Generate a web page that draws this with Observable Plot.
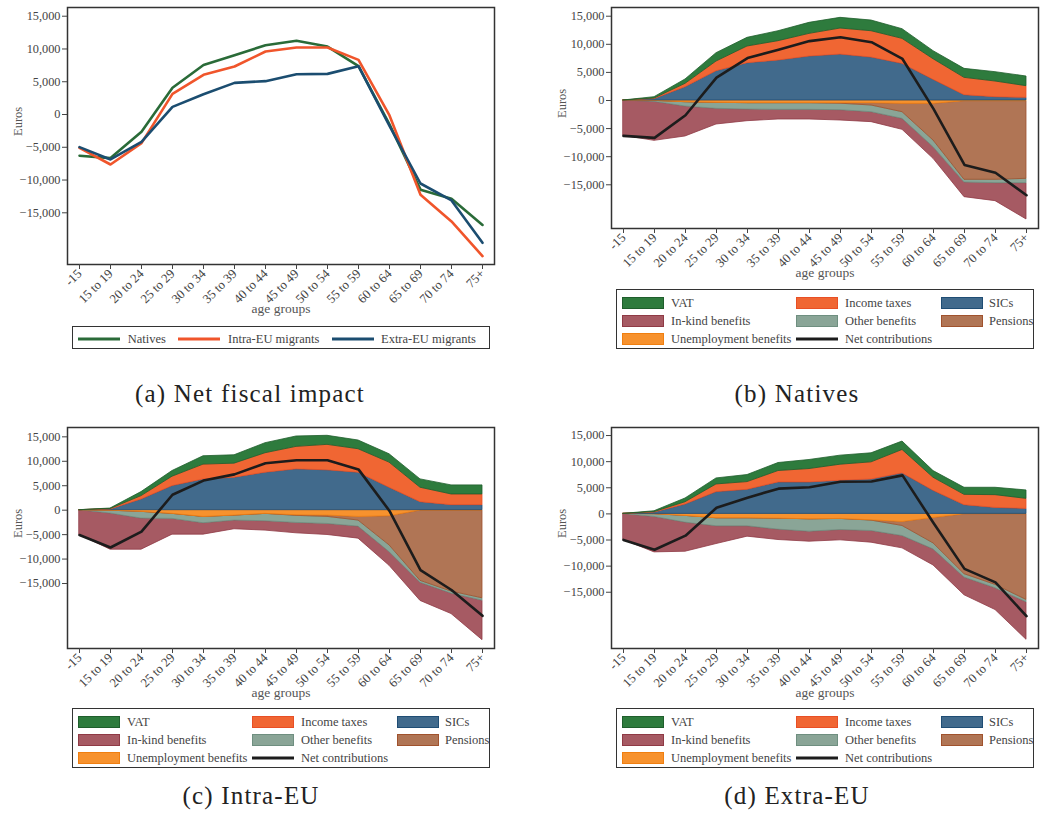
<!DOCTYPE html>
<html><head><meta charset="utf-8">
<script src="https://cdn.jsdelivr.net/npm/d3@7"></script>
<script src="https://cdn.jsdelivr.net/npm/@observablehq/plot@0.6"></script>
<style>
body{margin:0;background:#fff;width:1041px;height:829px;position:relative;overflow:hidden;font-family:"Liberation Serif","Times New Roman",serif;}
svg{position:absolute;overflow:visible;}
.legend{position:absolute;border:1.3px solid #333;box-sizing:border-box;background:#fff;}
.item{position:absolute;font-family:"Liberation Serif",serif;font-size:12.5px;color:#444;white-space:nowrap;transform:translateY(-50%);line-height:14px;}
.sw{position:absolute;box-sizing:border-box;transform:translateY(-50%);}
.caption{position:absolute;font-family:"Liberation Serif",serif;font-size:25px;letter-spacing:1.2px;color:#222;transform:translate(-50%,-50%);white-space:nowrap;}
</style></head>
<body>
<script>
// ---------- data ----------
const ages = ["-15","15 to 19","20 to 24","25 to 29","30 to 34","35 to 39","40 to 44","45 to 49","50 to 54","55 to 59","60 to 64","65 to 69","70 to 74","75+"];
const yTicks = [-15000,-10000,-5000,0,5000,10000,15000];

// net contributions (panel a, and black line in b, c, d)
const netNatives  = [-6300,-6650,-2620,4080,7550,9050,10570,11250,10370,7390,-1500,-11470,-12860,-16860];
const netIntraEU  = [-5090,-7630,-4370,3150,6050,7320,9610,10220,10220,8340,-150,-12250,-16320,-21610];
const netExtraEU  = [-4980,-6860,-4170,1170,3100,4830,5090,6150,6200,7370,-1750,-10530,-13120,-19580];

// Natives components
const nativesSICs   = [0,250,2370,5220,6640,7120,7830,8180,7650,6520,3680,950,590,470];
const nativesIncome = [0,100,600,1720,2970,3440,4030,4630,4680,4450,3670,3080,2790,2080];
const nativesVAT    = [0,240,770,1480,1540,1770,1960,1900,1900,1720,1430,1600,1660,1720];
const nativesUnemp  = [0,-60,-300,-410,-470,-470,-470,-470,-470,-590,-590,-120,-120,-120];
const nativesPens   = [0,0,0,0,0,0,0,-100,-420,-1490,-6530,-13990,-13990,-13820];
const nativesOther  = [0,-180,-770,-1070,-1130,-1190,-1190,-1150,-1190,-1180,-1180,-480,-600,-770];
const nativesInkind = [-6290,-6940,-5330,-2790,-2080,-1720,-1720,-1840,-1770,-1960,-2080,-2610,-3200,-6460];

// Intra-EU components
const intraSICs   = [0,140,2190,4930,6300,6640,7670,8360,8150,7670,4590,1640,1030,1030];
const intraIncome = [0,100,690,1920,3020,2880,3980,4590,5210,4800,5140,2950,2190,2190];
const intraVAT    = [0,100,820,1160,1710,1710,2050,2120,1850,1780,1710,1710,1850,1850];
const intraUnemp  = [0,-100,-340,-750,-1370,-1100,-750,-1030,-1100,-1370,-1230,-70,-70,-70];
const intraPens   = [0,0,0,0,0,0,0,-130,-270,-750,-5960,-14380,-16580,-17950];
const intraOther  = [0,-590,-1370,-1030,-1300,-1020,-1510,-1440,-1440,-1240,-1370,-410,-410,-480];
const intraInkind = [-5070,-7390,-6370,-3220,-2330,-1780,-1920,-2130,-2260,-2460,-2810,-3700,-4180,-8080];

// Extra-EU components
const extraSICs   = [0,260,1790,4170,4620,6030,6030,6350,6600,7760,4420,1670,1150,960];
const extraIncome = [0,90,450,1470,1470,2180,2560,3070,3270,4480,2500,1980,2440,1920];
const extraVAT    = [0,160,710,1150,1350,1530,1730,1730,1730,1610,1280,1350,1410,1610];
const extraUnemp  = [0,-50,-380,-830,-830,-900,-1030,-960,-1220,-1540,-770,-60,-60,-60];
const extraPens   = [0,0,0,0,0,0,0,0,-60,-770,-4870,-11480,-13530,-16410];
const extraOther  = [0,-530,-1290,-1540,-1540,-2110,-2370,-2120,-1990,-1920,-1150,-640,-640,-450];
const extraInkind = [-5000,-6790,-5570,-3400,-1990,-1990,-1920,-1980,-2240,-2370,-3080,-3400,-4170,-7180];

// ---------- styles ----------
const style = {
  "VAT": {fill:"#2e7b3d", stroke:"#1f5e2c"},
  "Income taxes": {fill:"#f06633", stroke:"#e84f25"},
  "SICs": {fill:"#416a8c", stroke:"#1f4d74"},
  "In-kind benefits": {fill:"#a65a63", stroke:"#8f3a45"},
  "Other benefits": {fill:"#8aa597", stroke:"#6f8f80"},
  "Pensions": {fill:"#b07555", stroke:"#a0522d"},
  "Unemployment benefits": {fill:"#f7922e", stroke:"#f07f10"}
};
const lineColors = {"Natives":"#2a6b38","Intra-EU migrants":"#f0552b","Extra-EU migrants":"#1b4d70"};

const FW = 427, ML = 66, MR = 10, MT = 7, MB = 62;

function makePlot(marks, yDomain, frameH, left, top) {
  const svg = Plot.plot({
    width: ML + FW + MR, height: MT + frameH + MB,
    marginLeft: ML, marginRight: MR, marginTop: MT, marginBottom: MB,
    style: {fontFamily: "Liberation Serif", fontSize: "12px", color: "#444", background: "transparent", overflow: "visible"},
    x: {type: "point", domain: ages, padding: 0.265, label: null},
    y: {domain: yDomain, label: null},
    marks: [
      ...marks,
      Plot.frame({stroke: "#333", strokeWidth: 1.5}),
      Plot.axisY({ticks: yTicks, tickFormat: d3.format(","), tickSize: 5, tickPadding: 2, label: null, fontSize: 12.3}),
      Plot.axisX({tickRotate: -45, tickSize: 5, tickPadding: 2, label: null, fontSize: 12.8}),
      Plot.text(["Euros"], {text: d => d, frameAnchor: "left", dx: -50, rotate: -90, fontSize: 12.5, fill: "#555"}),
      Plot.text(["age groups"], {text: d => d, frameAnchor: "bottom", dy: 48, fontSize: 13.5, fill: "#555"})
    ]
  });
  svg.style.left = left + "px";
  svg.style.top = top + "px";
  document.body.appendChild(svg);
}

function stackedMarks(comp, net) {
  const pos = [["SICs", comp.sic], ["Income taxes", comp.inc], ["VAT", comp.vat]];
  const neg = [["Unemployment benefits", comp.un], ["Pensions", comp.pen], ["Other benefits", comp.oth], ["In-kind benefits", comp.ink]];
  const rows = [];
  ages.forEach((a, i) => {
    let p = 0, n = 0;
    for (const [s, v] of pos) { rows.push({age: a, series: s, y1: p, y2: p + v[i]}); p += v[i]; }
    for (const [s, v] of neg) { rows.push({age: a, series: s, y1: n, y2: n + v[i]}); n += v[i]; }
  });
  const drawOrder = ["In-kind benefits", "Other benefits", "Pensions", "Unemployment benefits", "SICs", "Income taxes", "VAT"];
  const marks = drawOrder.map(s => Plot.areaY(rows.filter(r => r.series === s), {
    x: "age", y1: "y1", y2: "y2", fill: style[s].fill, stroke: style[s].stroke, strokeWidth: 0.8
  }));
  marks.push(Plot.line(ages.map((a, i) => ({age: a, v: net[i]})), {x: "age", y: "v", stroke: "#1c1c1c", strokeWidth: 2.6}));
  return marks;
}

// Panel (a)
const lineRows = [];
[["Natives", netNatives], ["Intra-EU migrants", netIntraEU], ["Extra-EU migrants", netExtraEU]].forEach(([s, v]) =>
  ages.forEach((a, i) => lineRows.push({age: a, series: s, v: v[i]})));
makePlot(["Natives", "Intra-EU migrants", "Extra-EU migrants"].map(s =>
  Plot.line(lineRows.filter(r => r.series === s), {x: "age", y: "v", stroke: lineColors[s], strokeWidth: 2.6})),
  [-22890, 16330], 257, 1, 0);

// Panel (b)
makePlot(stackedMarks({sic: nativesSICs, inc: nativesIncome, vat: nativesVAT, un: nativesUnemp, pen: nativesPens, oth: nativesOther, ink: nativesInkind}, netNatives),
  [-22780, 16550], 221, 544.7, 0);
// Panel (c)
makePlot(stackedMarks({sic: intraSICs, inc: intraIncome, vat: intraVAT, un: intraUnemp, pen: intraPens, oth: intraOther, ink: intraInkind}, netIntraEU),
  [-28290, 16910], 221, 0.7, 419.7);
// Panel (d)
makePlot(stackedMarks({sic: extraSICs, inc: extraIncome, vat: extraVAT, un: extraUnemp, pen: extraPens, oth: extraOther, ink: extraInkind}, netExtraEU),
  [-25770, 16540], 221, 544.7, 419.7);

// ---------- legends ----------
function el(cls, css, text) {
  const d = document.createElement("div");
  d.className = cls;
  Object.assign(d.style, css);
  if (text) d.textContent = text;
  return d;
}
// legend (a)
(function () {
  const box = el("legend", {left: "72px", top: "326px", width: "418px", height: "23px"});
  const items = [["Natives", 5.3, 54.7], ["Intra-EU migrants", 105.3, 155], ["Extra-EU migrants", 258.7, 308]];
  for (const [name, sx, tx] of items) {
    box.appendChild(el("sw", {left: sx + "px", top: "11.5px", width: "42px", height: "3px", background: lineColors[name]}));
    box.appendChild(el("item", {left: tx + "px", top: "11.5px"}, name));
  }
  document.body.appendChild(box);
})();
// stacked legends
function stackLegend(left, top) {
  const box = el("legend", {left: left + "px", top: top + "px", width: "418.3px", height: "60px"});
  const rowsY = [12.7, 31, 49.3];
  const colSw = [5, 179, 324.3], colTx = [54.3, 228.3, 372.3];
  const grid = [["VAT", "Income taxes", "SICs"], ["In-kind benefits", "Other benefits", "Pensions"], ["Unemployment benefits", "Net contributions", null]];
  grid.forEach((row, r) => row.forEach((name, c) => {
    if (!name) return;
    if (name === "Net contributions") {
      box.appendChild(el("sw", {left: colSw[c] + "px", top: rowsY[r] + "px", width: "42px", height: "3px", background: "#1c1c1c"}));
    } else {
      box.appendChild(el("sw", {left: colSw[c] + "px", top: rowsY[r] + "px", width: "42px", height: "12px", background: style[name].fill, border: "1.2px solid " + style[name].stroke}));
    }
    box.appendChild(el("item", {left: colTx[c] + "px", top: rowsY[r] + "px"}, name));
  }));
  document.body.appendChild(box);
}
stackLegend(615.7, 289);
stackLegend(71.7, 708);
stackLegend(615.7, 708);

// ---------- captions ----------
[["(a) Net fiscal impact", 250, 394], ["(b) Natives", 797, 394], ["(c) Intra-EU", 251, 796], ["(d) Extra-EU", 797, 796]].forEach(([t, x, y]) =>
  document.body.appendChild(el("caption", {left: x + "px", top: y + "px"}, t)));
</script>
</body></html>
